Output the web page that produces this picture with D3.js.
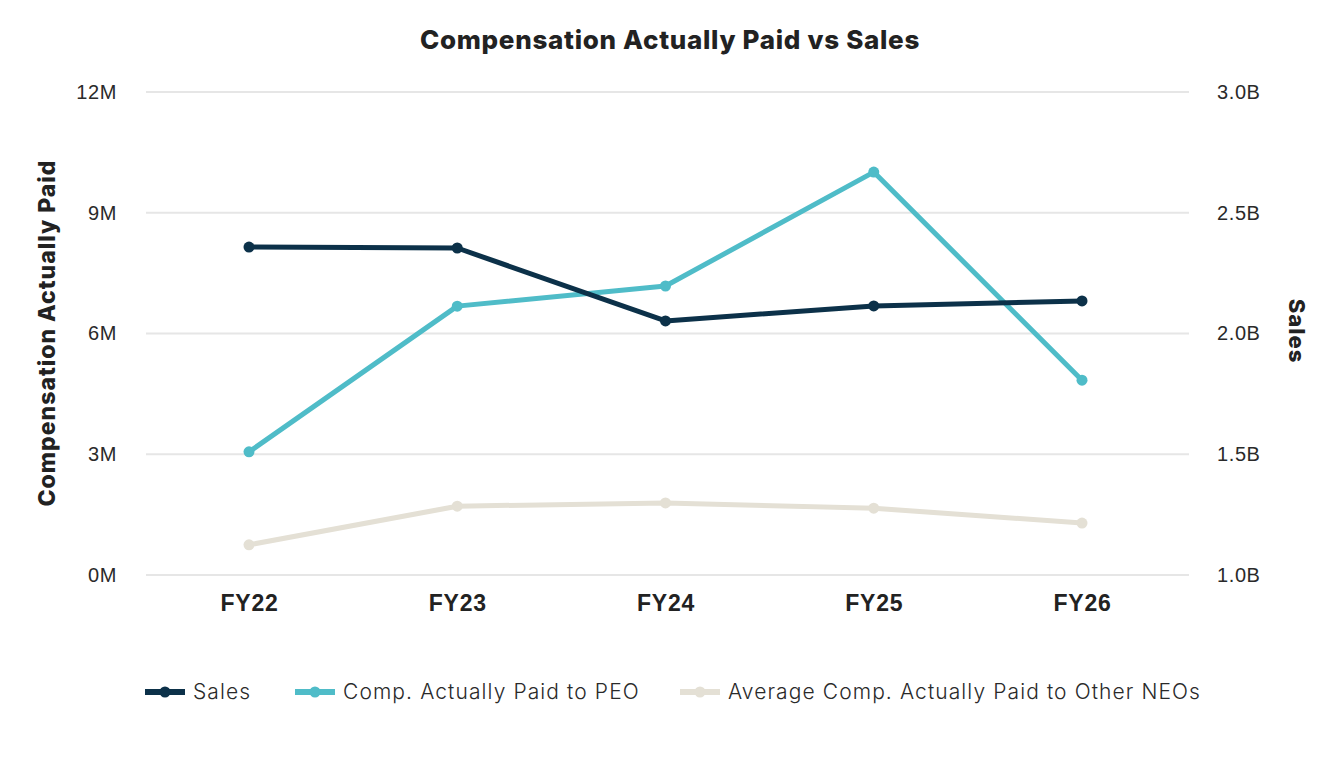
<!DOCTYPE html>
<html lang="en">
<head>
<meta charset="utf-8">
<title>Compensation Actually Paid vs Sales</title>
<script src="https://d3js.org/d3.v7.min.js"></script>
<style>
    body { margin: 0; background: #fff; font-family: 'Inter', 'Noto Sans', sans-serif; }
</style>
</head>
<body>
<div id="chart"></div>
<script>
// data
var years = ["FY22", "FY23", "FY24", "FY25", "FY26"];
var sales = [2.358e9, 2.354e9, 2.052e9, 2.114e9, 2.135e9];
var capPeo = [3.06e6, 6.68e6, 7.18e6, 10.01e6, 4.84e6];
var capNeo = [0.75e6, 1.71e6, 1.79e6, 1.66e6, 1.29e6];
var leftTicks = [0, 3e6, 6e6, 9e6, 12e6];
var rightTicks = [1.0e9, 1.5e9, 2.0e9, 2.5e9, 3.0e9];

var width = 1344, height = 768;
var svg = d3.select("#chart").append("svg")
    .attr("width", width).attr("height", height);

var x = d3.scalePoint().domain(years).range([249, 1082]);
var yL = d3.scaleLinear().domain([0, 12e6]).range([575, 92]);
var yR = d3.scaleLinear().domain([1e9, 3e9]).range([575, 92]);

// grid
svg.append("g").selectAll("line")
    .data(leftTicks).join("line")
    .attr("x1", 146).attr("x2", 1189)
    .attr("y1", d => yL(d)).attr("y2", d => yL(d))
    .attr("stroke", "#e6e6e6").attr("stroke-width", 2);

// left axis
var gl = svg.append("g").attr("transform", "translate(117,0)")
    .call(d3.axisLeft(yL).tickValues(leftTicks).tickSize(0).tickPadding(0)
        .tickFormat(d => (d / 1e6) + "M"));
gl.select(".domain").remove();
gl.selectAll("text").attr("font-size", 20).attr("font-weight", 300)
    .attr("fill", "#2a2a2a").attr("letter-spacing", "0.6px");

// right axis
var gr = svg.append("g").attr("transform", "translate(1217,0)")
    .call(d3.axisRight(yR).tickValues(rightTicks).tickSize(0).tickPadding(0)
        .tickFormat(d => (d / 1e9).toFixed(1) + "B"));
gr.select(".domain").remove();
gr.selectAll("text").attr("font-size", 20).attr("font-weight", 300)
    .attr("fill", "#2a2a2a").attr("letter-spacing", "0.6px");

// x axis
var gx = svg.append("g").attr("transform", "translate(0,595)")
    .call(d3.axisBottom(x).tickSize(0).tickPadding(0));
gx.select(".domain").remove();
gx.selectAll("text").attr("font-size", 23).attr("font-weight", 800)
    .attr("fill", "#222").attr("dy", "0.71em").attr("letter-spacing", "0.7px");

// titles
svg.append("text").attr("x", 670).attr("y", 49).attr("text-anchor", "middle")
    .attr("font-size", 26).attr("font-weight", 800).attr("fill", "#222")
    .attr("letter-spacing", "0.7px")
    .text("Compensation Actually Paid vs Sales");
svg.append("text").attr("transform", "translate(55,333) rotate(-90)")
    .attr("text-anchor", "middle").attr("font-size", 23).attr("font-weight", 800)
    .attr("fill", "#222").attr("letter-spacing", "1px")
    .text("Compensation Actually Paid");
svg.append("text").attr("transform", "translate(1289,331) rotate(90)")
    .attr("text-anchor", "middle").attr("font-size", 22).attr("font-weight", 800)
    .attr("fill", "#222").attr("letter-spacing", "1px").text("Sales");

var series = [
    {name: "Sales", values: sales, y: yR, color: "#0c3149"},
    {name: "Comp. Actually Paid to PEO", values: capPeo, y: yL, color: "#4fbcc8"},
    {name: "Average Comp. Actually Paid to Other NEOs", values: capNeo, y: yL, color: "#e4e0d5"}
];

// draw bottom-most first
[series[2], series[1], series[0]].forEach(function(s) {
    var line = d3.line().x((d, i) => x(years[i])).y(d => s.y(d));
    svg.append("path").datum(s.values)
        .attr("d", line).attr("fill", "none")
        .attr("stroke", s.color).attr("stroke-width", 5)
        .attr("stroke-linejoin", "round");
    svg.append("g").selectAll("circle").data(s.values).join("circle")
        .attr("cx", (d, i) => x(years[i])).attr("cy", d => s.y(d))
        .attr("r", 5.5).attr("fill", s.color);
});

// legend
var legX = [145, 295, 680];
var leg = svg.append("g").selectAll("g").data(series).join("g")
    .attr("transform", (d, i) => "translate(" + legX[i] + ",692)");
leg.append("line").attr("x1", 0).attr("x2", 40)
    .attr("stroke", d => d.color).attr("stroke-width", 6);
leg.append("circle").attr("cx", 20).attr("r", 5.5).attr("fill", d => d.color);
leg.append("text").attr("x", 48).attr("dy", "0.35em")
    .attr("font-size", 21).attr("font-weight", 300).attr("fill", "#2a2a2a")
    .attr("letter-spacing", "1.1px")
    .text(d => d.name);
</script>
</body>
</html>
